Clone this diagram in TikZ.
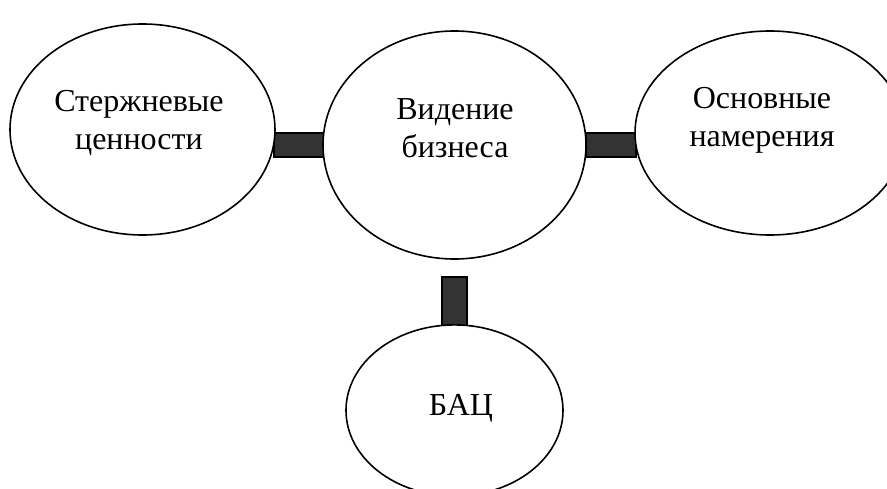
\documentclass[tikz,border=0pt]{standalone}
\usepackage{fontspec}
\setmainfont{Liberation Serif}
\usetikzlibrary{shapes.geometric,calc}
\definecolor{bargrey}{HTML}{333333}
\begin{document}
\begin{tikzpicture}[x=1pt,y=-1pt,
  oval/.style={ellipse,draw=black,line width=1.6pt,fill=white,inner sep=0pt},
  lbl/.style={align=center,font=\fontsize{32}{38}\selectfont,inner sep=0pt},
  bar/.style={draw=black,line width=1.2pt,fill=bargrey}]
\useasboundingbox (0,0) rectangle (887,489);
\clip (0,0) rectangle (887,489);
\fill[white] (0,0) rectangle (887,489);
% bars (drawn first, ovals cover their ends)
\coordinate (lbarA) at (274,133);
\coordinate (lbarB) at (324,157);
\coordinate (rbarA) at (586,133);
\coordinate (rbarB) at (636,157);
\coordinate (bbarA) at (442,277);
\coordinate (bbarB) at (467,326);
\draw[bar] (lbarA) rectangle (lbarB);
\draw[bar] (rbarA) rectangle (rbarB);
\draw[bar] (bbarA) rectangle (bbarB);
% ovals
\node[oval,minimum width=265pt,minimum height=211pt] (lft) at (142.5,129.5) {};
\node[oval,minimum width=263pt,minimum height=228pt] (mid) at (454.5,145) {};
\node[oval,minimum width=270pt,minimum height=204pt] (rgt) at (770,133) {};
\node[oval,minimum width=217pt,minimum height=171pt] (bac) at (454.5,410.4) {};
% labels
\node[lbl] (tl) at (139,123.5) {Стержневые\\ценности};
\node[lbl] (tm) at (455,128) {Видение\\бизнеса};
\node[lbl] (tr) at (762,120) {Основные\\намерения};
\node[lbl] (tb) at (461,408) {БАЦ};
\end{tikzpicture}
\end{document}
